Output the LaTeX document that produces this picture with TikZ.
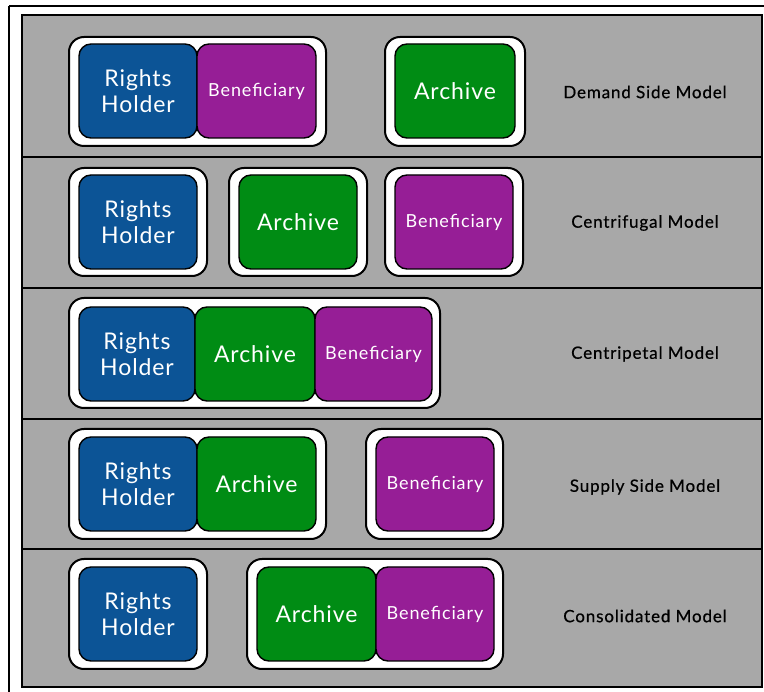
\documentclass[tikz,border=0pt]{standalone}
\usepackage{fontspec}
\setmainfont{Lato}
\newfontfamily\bigfont[LetterSpace=4]{Lato}
\newfontfamily\benfont[LetterSpace=5]{Lato}
\newfontfamily\lblfont[LetterSpace=5,FakeBold=0.6]{Lato}
\definecolor{rhblue}{RGB}{12,84,150}
\definecolor{bpurple}{RGB}{150,30,150}
\definecolor{agreen}{RGB}{0,140,20}
\definecolor{panelgray}{RGB}{168,168,168}
\begin{document}
\begin{tikzpicture}[x=1pt,y=-1pt,
  wbox/.style={draw=black, line width=2pt, fill=white, rounded corners=15pt, inner sep=0pt},
  cbox/.style={draw=black, line width=1.4pt, rounded corners=12pt, inner sep=0pt, minimum height=94pt, text=white, align=center, font=\bigfont\fontsize{23}{26}\selectfont},
  rh/.style={cbox, fill=rhblue},
  ar/.style={cbox, fill=agreen},
  be/.style={cbox, fill=bpurple, font=\benfont\fontsize{18}{20}\selectfont},
  lbl/.style={font=\lblfont\fontsize{17}{20}\selectfont, text=black}
]
\useasboundingbox (0,0) rectangle (764,692);
\fill[white] (0,0) rectangle (764,692);
\draw[line width=2pt] (9,6) -- (770,6);
\draw[line width=2pt] (9,6) -- (9,700);
\draw[fill=panelgray, line width=1.2pt] (22,15) rectangle (762,687);
\draw[line width=2pt] (762,15) -- (762,687) -- (22,687);
\foreach \y in {157,288,419,549} \draw[line width=1.2pt] (22,\y) -- (762,\y);

% Row 1: Demand Side Model
\node[wbox, minimum width=257pt, minimum height=109pt] (w1a) at (197.5,91.5) {};
\node[rh, minimum width=118pt] (rh1) at (138,91) {Rights\\Holder};
\node[be, minimum width=119pt] (be1) at (256.5,91) {Beneficiary};
\node[wbox, minimum width=140pt, minimum height=109pt] (w1b) at (455,91.5) {};
\node[ar, minimum width=120pt] (ar1) at (455,91) {Archive};
\node[lbl] (l1) at (645,92) {Demand Side Model};

% Row 2: Centrifugal Model
\node[wbox, minimum width=138pt, minimum height=108pt] (w2a) at (138,222) {};
\node[rh, minimum width=118pt] (rh2) at (138,222) {Rights\\Holder};
\node[wbox, minimum width=138pt, minimum height=108pt] (w2b) at (298,222) {};
\node[ar, minimum width=118pt] (ar2) at (298,222) {Archive};
\node[wbox, minimum width=138pt, minimum height=108pt] (w2c) at (454,222) {};
\node[be, minimum width=118pt] (be2) at (454,222) {Beneficiary};
\node[lbl] (l2) at (645,223) {Centrifugal Model};

% Row 3: Centripetal Model
\node[wbox, minimum width=371pt, minimum height=110pt] (w3) at (254.5,353) {};
\node[rh, minimum width=116pt] (rh3) at (137,354) {Rights\\Holder};
\node[ar, minimum width=120pt] (ar3) at (255,354) {Archive};
\node[be, minimum width=117pt] (be3) at (373.5,354) {Beneficiary};
\node[lbl] (l3) at (645,354) {Centripetal Model};

% Row 4: Supply Side Model
\node[wbox, minimum width=257pt, minimum height=110pt] (w4a) at (197.5,484) {};
\node[rh, minimum width=118pt] (rh4) at (138,484) {Rights\\Holder};
\node[ar, minimum width=119pt] (ar4) at (256.5,484) {Archive};
\node[wbox, minimum width=137pt, minimum height=110pt] (w4b) at (434.5,484) {};
\node[be, minimum width=118pt] (be4) at (435,484) {Beneficiary};
\node[lbl] (l4) at (645,487) {Supply Side Model};

% Row 5: Consolidated Model
\node[wbox, minimum width=138pt, minimum height=110pt] (w5a) at (138,614) {};
\node[rh, minimum width=118pt] (rh5) at (138,614) {Rights\\Holder};
\node[wbox, minimum width=256pt, minimum height=110pt] (w5b) at (375,614) {};
\node[ar, minimum width=119pt] (ar5) at (316.5,614) {Archive};
\node[be, minimum width=118pt] (be5) at (435,614) {Beneficiary};
\node[lbl] (l5) at (645,616) {Consolidated Model};
\end{tikzpicture}
\end{document}
